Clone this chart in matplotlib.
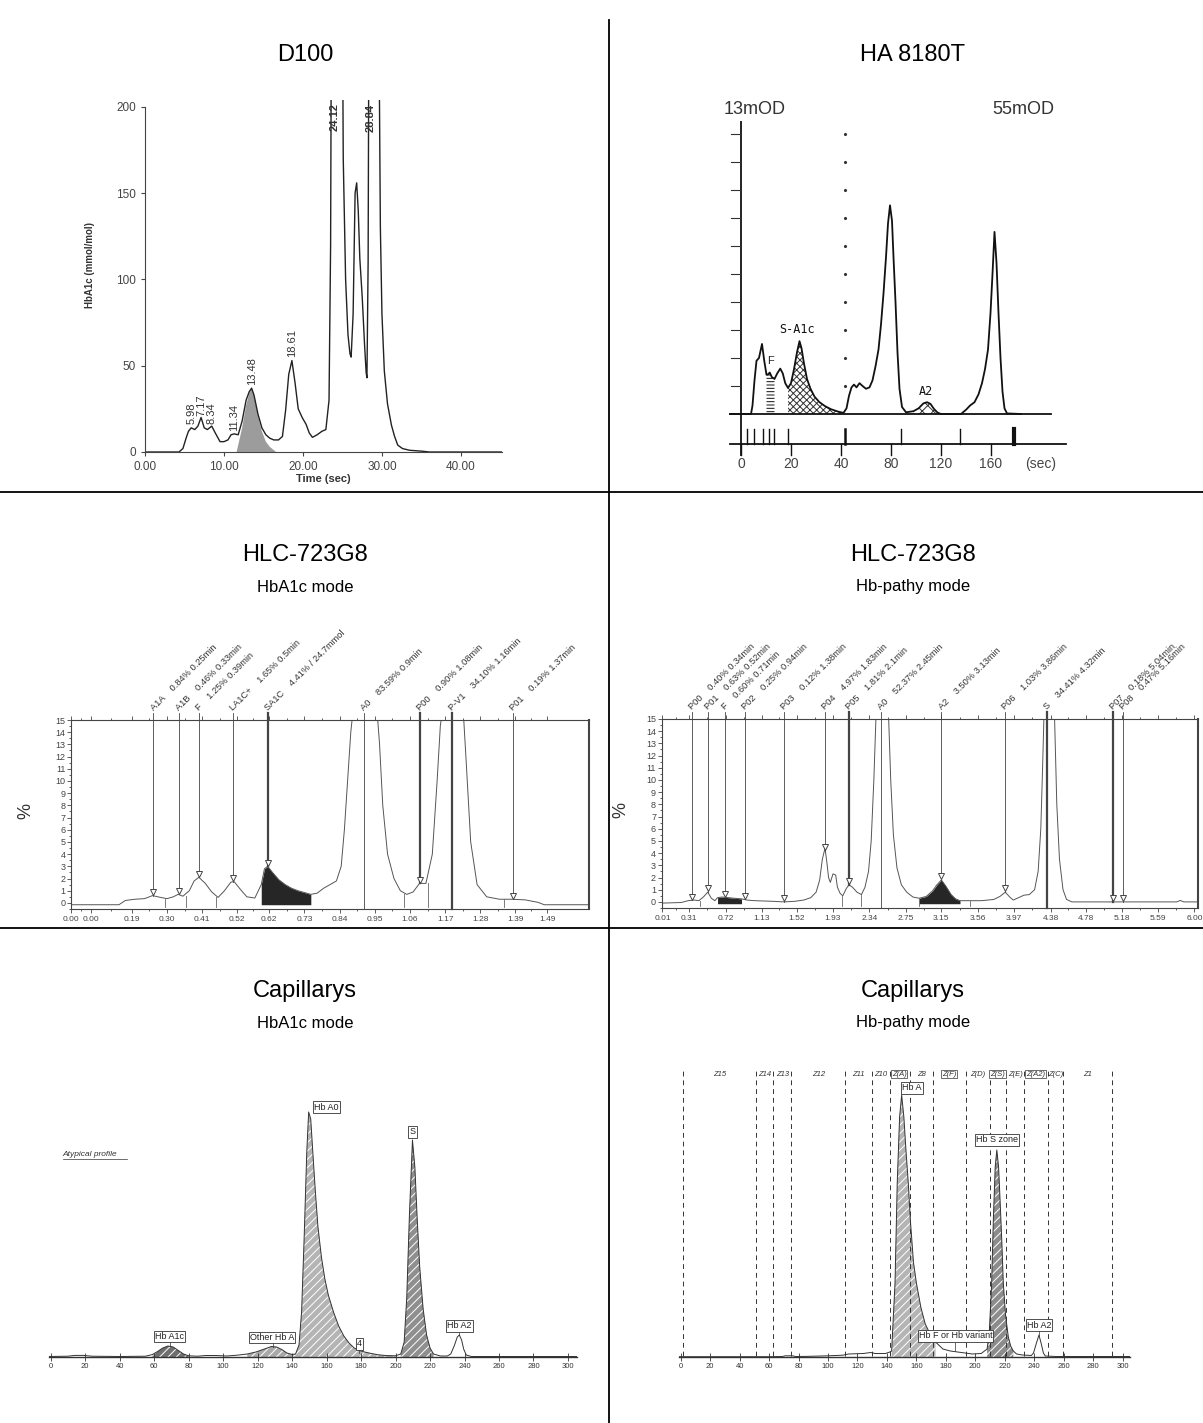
import numpy as np
import matplotlib.pyplot as plt
from matplotlib.lines import Line2D

plt.rcParams['font.family'] = ['Liberation Sans', 'DejaVu Sans']
plt.rcParams['hatch.linewidth'] = 0.7

W, H = 1203, 1423

# ---------------- data ----------------
# D100: time (sec), HbA1c signal
d100_curve = [(0.0, 0), (4.3, 0), (4.8, 2), (5.2, 8), (5.5, 12), (5.85, 14), (6.3, 13), (6.7, 15),
              (7.1, 20), (7.5, 14), (7.9, 13), (8.45, 15), (8.9, 11), (9.5, 6), (10.0, 6), (10.5, 7),
              (10.9, 10), (11.3, 10.5), (11.8, 10), (12.3, 18), (12.8, 30), (13.2, 35), (13.5, 37),
              (13.8, 33), (14.3, 22), (14.8, 14), (15.3, 10), (15.8, 8), (16.3, 7), (16.9, 7), (17.4, 9),
              (17.8, 24), (18.2, 45), (18.6, 53), (19.0, 40), (19.4, 25), (19.9, 20), (20.4, 16),
              (20.8, 11), (21.2, 8.5), (21.8, 10), (22.4, 12), (22.9, 13), (23.3, 30), (23.5, 120),
              (23.6, 260), (25.0, 260), (25.1, 170), (25.4, 100), (25.7, 68), (25.95, 57), (26.1, 55),
              (26.35, 80), (26.6, 150), (26.8, 156), (27.0, 140), (27.2, 112), (27.5, 90), (27.8, 62),
              (28.0, 46), (28.1, 43), (28.25, 110), (28.35, 260), (29.6, 260), (29.8, 130), (30.0, 80),
              (30.3, 47), (30.7, 28), (31.2, 15.6), (31.6, 9), (32.0, 4), (32.6, 2), (33.5, 1),
              (35.0, 0.5), (36.0, 0), (45.2, 0)]
d100_fill = [(11.6, 0), (12.3, 14), (12.8, 27), (13.2, 34), (13.5, 37), (13.8, 33), (14.3, 21),
             (14.8, 12), (15.3, 6), (15.8, 3), (16.6, 0)]
d100_peak_labels = [("5.98", 5.9, 16), ("7.17", 7.1, 21), ("8.34", 8.45, 16), ("11.34", 11.3, 12),
                    ("13.48", 13.5, 39), ("18.61", 18.6, 55)]
d100_top_labels = [("24.12", 24.0), ("28.84", 28.6)]
d100_xticks = [0, 10, 20, 30, 40]
d100_xticklabels = ["0.00", "10.00", "20.00", "30.00", "40.00"]
d100_yticks = [0, 50, 100, 150, 200]

# HA 8180T: scale position (u), signal (k, in y-tick steps)
ha_curve = [(-4.4, 0), (4.0, 0), (4.6, 0.3), (5.4, 1.2), (6.2, 1.9), (7.2, 2.0), (8.4, 2.5), (9.3, 1.9),
            (10.2, 1.4), (10.9, 1.42), (11.5, 1.48), (12.3, 1.32), (13.4, 1.25), (14.5, 1.45),
            (15.7, 1.62), (16.7, 1.45), (17.7, 1.1), (18.8, 0.93), (20.0, 1.1), (21.2, 1.6), (22.4, 2.2),
            (23.4, 2.6), (24.2, 2.35), (25.2, 1.8), (26.4, 1.25), (27.8, 0.9), (29.4, 0.62), (31.4, 0.42),
            (33.6, 0.28), (36.0, 0.17), (39.0, 0.08), (41.0, 0.04), (42.2, 0.2), (43.2, 0.65),
            (44.2, 0.95), (45.2, 1.05), (46.2, 0.95), (47.4, 1.1), (48.6, 1.0), (50.0, 0.9), (51.4, 0.95),
            (52.6, 1.2), (53.8, 1.7), (55.0, 2.3), (56.0, 3.2), (57.0, 4.3), (58.0, 5.6), (58.8, 6.8),
            (59.6, 7.45), (60.4, 6.9), (61.0, 5.6), (61.8, 4.0), (62.6, 2.2), (63.4, 0.9), (64.4, 0.25),
            (66.0, 0.06), (69.0, 0.1), (71.0, 0.2), (73.0, 0.38), (74.4, 0.42), (75.8, 0.36),
            (77.2, 0.18), (78.6, 0.05), (80.0, 0.0), (88.0, 0.0), (90.0, 0.15), (91.6, 0.3), (93.4, 0.42),
            (95.0, 0.7), (96.4, 1.1), (97.6, 1.6), (98.8, 2.3), (99.8, 3.6), (100.6, 5.0), (101.4, 6.5),
            (102.2, 5.4), (103.0, 3.6), (103.8, 2.0), (104.6, 0.8), (105.4, 0.2), (106.4, 0.02),
            (112.0, 0.0)]
ha_xticks = [0, 20, 40, 60, 80, 100]
ha_xticklabels = ["0", "20", "40", "80", "120", "160"]
ha_yticks = [1, 2, 3, 4, 5, 6, 7, 8, 9, 10]
ha_marks = [2.4, 5.2, 8.8, 11.2, 13.2, 18.8, 41.6, 64.0, 87.6, 109.2]
ha_mark_widths = [1, 1, 1, 1, 1, 1, 1.8, 1, 1, 3]

# HLC-723G8 HbA1c mode: time (min), %
hlcL_curve = [(0.00, -0.15), (0.15, -0.15), (0.17, 0.2), (0.20, 0.3), (0.23, 0.35), (0.255, 0.6),
              (0.28, 0.45), (0.30, 0.35), (0.32, 0.5), (0.335, 0.7), (0.35, 0.55), (0.37, 1.0),
              (0.385, 1.8), (0.40, 2.1), (0.42, 1.6), (0.44, 0.9), (0.46, 0.45), (0.48, 1.0), (0.50, 1.7),
              (0.51, 1.75), (0.53, 1.1), (0.55, 0.5), (0.575, 0.4), (0.595, 1.5), (0.605, 2.8),
              (0.615, 3.0), (0.63, 2.5), (0.65, 1.9), (0.67, 1.5), (0.69, 1.2), (0.71, 1.0), (0.73, 0.85),
              (0.75, 0.7), (0.77, 0.8), (0.79, 1.2), (0.81, 1.5), (0.83, 1.8), (0.845, 3.0), (0.855, 6.0),
              (0.865, 10.0), (0.875, 14.0), (0.885, 16.5), (0.955, 16.5), (0.965, 13.0), (0.975, 8.0),
              (0.99, 4.0), (1.01, 2.0), (1.03, 1.0), (1.05, 0.7), (1.07, 0.9), (1.09, 1.6), (1.11, 1.6),
              (1.13, 4.0), (1.145, 10.0), (1.155, 14.5), (1.165, 16.5), (1.225, 16.5), (1.235, 12.0),
              (1.25, 5.0), (1.27, 1.5), (1.30, 0.5), (1.34, 0.3), (1.38, 0.3), (1.42, 0.25), (1.46, 0.05),
              (1.48, -0.15), (1.62, -0.15)]
hlcL_fill = (0.595, 0.75)
hlcL_marks = [("A1A", 0.258, 0.6, "0.84% 0.25min", False), ("A1B", 0.338, 0.7, "0.46% 0.33min", False),
              ("F", 0.40, 2.1, "1.25% 0.39min", False), ("LA1C+", 0.506, 1.75, "1.65% 0.5min", False),
              ("SA1C", 0.616, 3.0, "4.41% / 24.7mmol", True), ("A0", 0.915, None, "83.59% 0.9min", False),
              ("P00", 1.09, 1.6, "0.90% 1.08min", True), ("P-V1", 1.19, None, "34.10% 1.16min", True),
              ("P01", 1.383, 0.3, "0.19% 1.37min", False)]
hlcL_drops = [(0.295, 0.35), (0.36, 0.55), (0.455, 0.45), (1.04, 0.7), (1.115, 1.6), (1.355, 0.3)]
hlcL_xticks = [0.0, 0.0625, 0.19, 0.30, 0.41, 0.52, 0.62, 0.73, 0.84, 0.95, 1.06, 1.17, 1.28, 1.39, 1.49]
hlcL_xticklabels = ["0.00", "0.00", "0.19", "0.30", "0.41", "0.52", "0.62", "0.73", "0.84", "0.95",
                    "1.06", "1.17", "1.28", "1.39", "1.49"]

# HLC-723G8 Hb-pathy mode
hlcR_curve = [(0.0, -0.1), (0.22, -0.05), (0.30, 0.1), (0.37, 0.15), (0.42, 0.1), (0.47, 0.4), (0.52, 0.8),
              (0.56, 0.3), (0.60, 0.1), (0.63, 0.35), (0.68, 0.4), (0.75, 0.35), (0.82, 0.3), (0.90, 0.25),
              (0.96, 0.15), (1.05, 0.1), (1.25, 0.05), (1.38, 0.0), (1.50, 0.05), (1.60, 0.15),
              (1.68, 0.35), (1.74, 0.8), (1.78, 1.8), (1.81, 3.5), (1.84, 4.4), (1.86, 3.3), (1.88, 2.0),
              (1.90, 1.6), (1.93, 2.3), (1.96, 2.2), (1.98, 1.2), (2.01, 0.7), (2.04, 0.5), (2.08, 1.1),
              (2.11, 1.4), (2.15, 1.2), (2.20, 0.8), (2.25, 0.6), (2.29, 1.2), (2.33, 2.5), (2.36, 5.0),
              (2.39, 10.0), (2.42, 16.5), (2.55, 16.5), (2.58, 10.0), (2.61, 5.5), (2.65, 2.8),
              (2.70, 1.4), (2.76, 0.8), (2.83, 0.4), (2.90, 0.3), (2.98, 0.45), (3.05, 0.9), (3.10, 1.4),
              (3.15, 1.8), (3.20, 1.3), (3.26, 0.6), (3.31, 0.25), (3.36, 0.1), (3.60, 0.1), (3.74, 0.2),
              (3.81, 0.45), (3.87, 0.8), (3.92, 0.4), (3.96, 0.15), (4.02, 0.35), (4.08, 0.55),
              (4.14, 0.6), (4.20, 1.0), (4.24, 2.5), (4.27, 6.0), (4.29, 11.0), (4.31, 16.5), (4.42, 16.5),
              (4.45, 8.0), (4.48, 3.5), (4.52, 1.0), (4.56, 0.2), (4.62, 0.0), (5.80, 0.0), (5.84, 0.12),
              (5.88, 0.0), (6.04, 0.0)]
hlcR_fills = [(0.62, 0.95), (2.88, 3.36)]
hlcR_marks = [("P00", 0.34, 0.12, "0.40% 0.34min", False), ("P01", 0.52, 0.8, "0.63% 0.52min", False),
              ("F", 0.71, 0.38, "0.60% 0.71min", False), ("P02", 0.94, 0.2, "0.25% 0.94min", False),
              ("P03", 1.38, 0.0, "0.12% 1.38min", False), ("P04", 1.84, 4.2, "4.97% 1.83min", False),
              ("P05", 2.11, 1.4, "1.81% 2.1min", True), ("A0", 2.47, None, "52.37% 2.45min", False),
              ("A2", 3.15, 1.8, "3.50% 3.13min", False), ("P06", 3.87, 0.8, "1.03% 3.86min", False),
              ("S", 4.34, None, "34.41% 4.32min", True), ("P07", 5.08, 0.0, "0.18% 5.04min", True),
              ("P08", 5.19, 0.0, "0.47% 5.16min", False)]
hlcR_drops = [(0.43, 0.1), (2.03, 0.5), (2.25, 0.6), (2.90, 0.3), (3.47, 0.1)]
hlcR_xticks = [0.01, 0.31, 0.72, 1.13, 1.52, 1.93, 2.34, 2.75, 3.15, 3.56, 3.97, 4.38, 4.78, 5.18, 5.59, 6.00]
hlcR_xticklabels = ["0.01", "0.31", "0.72", "1.13", "1.52", "1.93", "2.34", "2.75", "3.15", "3.56",
                    "3.97", "4.38", "4.78", "5.18", "5.59", "6.00"]

# Capillarys HbA1c mode
capL_curve = [(-1, 0.5), (10, 0.8), (14, 1.6), (19, 1.6), (24, 0.8), (40, 0.5), (55, 0.8), (59, 2.5),
              (62, 5.5), (65, 9), (68, 11), (71, 10), (74, 6.5), (77, 3), (80, 1.2), (85, 0.8), (90, 1.5),
              (96, 1.5), (102, 1), (108, 1.8), (114, 3), (119, 5), (124, 8), (128, 10.5), (131, 10),
              (134, 7.5), (137, 4), (140, 2.5), (142, 3), (144, 12), (145.5, 45), (147, 120), (148.5, 205),
              (149.6, 245), (150.8, 238), (152, 205), (153.5, 165), (155, 130), (157, 100), (159, 78),
              (161, 62), (164, 45), (167, 31), (170, 21), (173, 14), (176, 9), (179, 6.5), (182, 5),
              (186, 3.5), (190, 2.2), (195, 1.4), (200, 1.2), (203, 3), (205, 15), (206.5, 60), (208, 140),
              (209.8, 217), (211.2, 190), (212.5, 140), (214, 90), (216, 48), (218, 22), (220, 9), (222, 3),
              (226, 1), (230, 1), (232, 3), (234, 11), (235.8, 20), (237, 22), (238.3, 17), (239.5, 8),
              (241, 2), (244, 0.5), (305, 0.5)]
capL_fills = [(58, 80, "#6f6f6f"), (112, 142, "#a9a9a9"), (142, 200, "#b4b4b4"), (203, 224, "#8f8f8f")]
capL_boxes = [("Hb A1c", 69, 20.5), ("Other Hb A", 128.4, 19.5), ("Hb A0", 160, 250), ("S", 209.8, 225),
              ("4", 179, 13), ("Hb A2", 237, 31)]

# Capillarys Hb-pathy mode
capR_curve = [(-1, 0.3), (60, 0.3), (69, 0.5), (71, 1.2), (76, 1.2), (78, 0.5), (85, 0.6), (100, 1.2),
              (110, 1.8), (114, 3), (124, 3.5), (129, 4.5), (132, 3.5), (139, 3.5), (142, 5), (143.2, 6),
              (145.5, 74), (147, 174), (148.6, 240), (150, 262), (151.5, 240), (153, 205), (154.5, 174),
              (156, 135), (158, 95), (160, 74), (163, 50), (166, 33), (169, 24), (173, 15), (178, 8),
              (183, 6), (188, 5), (193, 4), (198, 3), (204, 3.5), (208, 8), (209.5, 25), (211, 70),
              (212.3, 140), (213.5, 190), (214.6, 207), (215.8, 190), (216.8, 157), (218, 115), (219, 74),
              (220.5, 42), (222.4, 20), (224, 11), (225.8, 6), (228, 3), (232, 2), (238, 1.5), (239.5, 4),
              (241.5, 14), (243.2, 22), (244.8, 13), (246.2, 4), (247.5, 1), (255, 0.5), (305, 0.5)]
capR_fills = [(143, 173, "#b4b4b4"), (208, 226, "#8c8c8c")]
capR_boxes = [("Hb A", 157, 269), ("Hb S zone", 214.5, 217), ("Hb F or Hb variant", 186.6, 21),
              ("Hb A2", 243.2, 32)]
capR_zone_x = [1.4, 50.9, 62.9, 74.7, 111.5, 130, 142, 155.7, 171.5, 193.4, 210, 220.6, 233, 249, 259.7, 292.5]
capR_zones = [("Z15", 26.2, False), ("Z14", 56.8, False), ("Z13", 69, False), ("Z12", 93.4, False),
              ("Z11", 120.6, False), ("Z10", 136, False), ("Z(A)", 148.4, True), ("Z8", 163.6, False),
              ("Z(F)", 182.3, True), ("Z(D)", 201.4, False), ("Z(S)", 215, True), ("Z(E)", 227, False),
              ("Z(A2)", 241, True), ("Z(C)", 254.5, False), ("Z1", 276, False)]
cap_xticks = list(range(0, 301, 20))

# ---------------- layout ----------------
LINE1, LINE2, VLINE = 492, 928, 609


def px_rect(x0, y0, x1, y1):
    return [x0 / W, 1 - y1 / H, (x1 - x0) / W, (y1 - y0) / H]


fig = plt.figure(figsize=(W / 100, H / 100), dpi=100)

fig.add_artist(Line2D([0, 1], [1 - LINE1 / H] * 2, color='k', lw=1.3))
fig.add_artist(Line2D([0, 1], [1 - LINE2 / H] * 2, color='k', lw=1.3))
fig.add_artist(Line2D([VLINE / W] * 2, [0, 1 - 20 / H], color='k', lw=1.3))

fig.text(305 / W, 1 - 55 / H, "D100", ha='center', va='center', fontsize=17)
fig.text(913 / W, 1 - 55 / H, "HA 8180T", ha='center', va='center', fontsize=17)
for cx, sub in ((305, "HbA1c mode"), (913, "Hb-pathy mode")):
    fig.text(cx / W, 1 - (LINE1 + 63) / H, "HLC-723G8", ha='center', va='center', fontsize=17)
    fig.text(cx / W, 1 - (LINE1 + 95) / H, sub, ha='center', va='center', fontsize=12)
    fig.text(cx / W, 1 - (LINE2 + 63) / H, "Capillarys", ha='center', va='center', fontsize=17)
    fig.text(cx / W, 1 - (LINE2 + 95) / H, sub, ha='center', va='center', fontsize=12)

# ---------------- D100 ----------------
ax = fig.add_axes(px_rect(145, 100, 502, 452))
t, v = zip(*d100_curve)
ft, fv = zip(*d100_fill)
ax.fill(ft, fv, color='#9c9c9c', lw=0)
ax.plot(t, v, color='#222222', lw=1.0)
ax.set_xlim(0, 45.2)
ax.set_ylim(0, 204)
for s in ('top', 'right'):
    ax.spines[s].set_visible(False)
ax.spines['left'].set_bounds(0, 200)
for s in ('left', 'bottom'):
    ax.spines[s].set_color('#444444')
ax.set_xticks(d100_xticks, d100_xticklabels)
ax.set_yticks(d100_yticks)
ax.tick_params(length=3, width=0.8, colors='#444444', labelsize=8.5)
ax.set_xlabel("Time (sec)", fontsize=8, fontweight='bold', color='#333333', labelpad=1)
ax.set_ylabel("HbA1c (mmol/mol)", fontsize=7, fontweight='bold', color='#333333')
ax.yaxis.set_label_coords(-0.14, 0.53)
for lab, x, y in d100_peak_labels:
    ax.text(x, y, lab, rotation=90, ha='center', va='bottom', fontsize=8, color='#333333')
for lab, x in d100_top_labels:
    ax.text(x, 202, lab, rotation=90, ha='center', va='top', fontsize=8, color='#333333',
            fontweight='bold')

# ---------------- HA 8180T ----------------
ax = fig.add_axes(px_rect(728, 121, 1070, 470))
ax.set_xlim(-5.2, 131.6)
ax.set_ylim(-2.0, 10.46)
ax.axis('off')
u, k = map(np.array, zip(*ha_curve))
m = (u >= 10.2) & (u <= 13.4)
ax.fill_between(u[m], 0, k[m], facecolor='white', edgecolor='#111111', hatch='-----', lw=0)
m = (u >= 18.8) & (u <= 41.0)
ax.fill_between(u[m], 0, k[m], facecolor='white', edgecolor='#333333', hatch='xxxxx', lw=0)
m = (u >= 69.0) & (u <= 78.6)
ax.fill_between(u[m], 0, k[m], facecolor='white', edgecolor='#333333', hatch='xxx', lw=0)
ax.plot(u, k, color='#111111', lw=1.3)
ax.plot([0, 0], [-1.45, 10.45], color='#111111', lw=1.3)
for kk in ha_yticks:
    ax.plot([-4, 0], [kk, kk], color='#333333', lw=0.8)
ax.plot([41.5] * len(ha_yticks), ha_yticks, ls='none', marker='.', ms=2.5, color='#333333')
ax.plot([-4.4, 124], [0, 0], color='#111111', lw=1.3)
ax.plot([-4.4, 130], [-1.07, -1.07], color='#111111', lw=1.3)
for uu in ha_xticks:
    ax.plot([uu, uu], [-1.07, -1.45], color='#111111', lw=1.0)
for uu, lw in zip(ha_marks, ha_mark_widths):
    ax.plot([uu, uu], [-1.07, -0.54], color='#111111', lw=lw)
for uu, lab in zip(ha_xticks, ha_xticklabels):
    ax.text(uu, -1.55, lab, ha='center', va='top', fontsize=10, color='#444444')
ax.text(120, -1.55, "(sec)", ha='center', va='top', fontsize=10, color='#444444')
ax.text(11.8, 1.9, "F", fontsize=8, ha='center', va='center', color='#222222')
ax.text(22.5, 3.0, "S-A1c", fontsize=8.5, ha='center', va='center', family='DejaVu Sans Mono',
        color='#111111')
ax.text(73.8, 0.8, "A2", fontsize=8.5, ha='center', va='center', family='DejaVu Sans Mono',
        color='#111111')
ax.text(5.6, 10.86, "13mOD", fontsize=13, ha='center', va='center', color='#333333')
ax.text(112.8, 10.86, "55mOD", fontsize=13, ha='center', va='center', color='#333333')


# ---------------- HLC-723G8 ----------------
def draw_hlc(rect, curve, fills, marks, drops, xticks, xticklabels, xmax, ylabel_x):
    ax = fig.add_axes(px_rect(*rect))
    t, v = map(np.array, zip(*curve))
    for a, b in fills:
        m = (t >= a) & (t <= b)
        ax.fill_between(t[m], -0.15, v[m], color='#262626', lw=0)
    ax.plot(t, v, color='#555555', lw=0.7)
    for x, y in drops:
        ax.plot([x, x], [-0.3, y], color='#666666', lw=0.6)
    for name, x, ym, txt, thick in marks:
        bottom = ym if ym is not None else -0.5
        ax.plot([x, x], [bottom, 15.6], color='#444444', lw=1.6 if thick else 0.6, clip_on=False)
        if ym is not None:
            ax.plot(x, ym + 0.3, marker='v', ms=4.5, mfc='white', mec='#444444', mew=0.7)
        ax.text(x + xmax * 0.003, 15.65, name + "    " + txt, rotation=45, rotation_mode='anchor',
                ha='left', va='bottom', fontsize=6.7, color='#333333')
    ax.set_xlim(0, xmax)
    ax.set_ylim(-0.5, 15)
    for s in ax.spines.values():
        s.set_color('#444444')
        s.set_linewidth(0.8)
    ax.spines['right'].set_linewidth(1.5)
    ax.set_xticks(xticks, xticklabels)
    ax.set_yticks(range(0, 16))
    ax.set_yticks(np.arange(-0.5, 15.01, 0.5), minor=True)
    ax.set_xticks([(xticks[i] + xticks[i + 1]) / 2 for i in range(len(xticks) - 1)], minor=True)
    ax.tick_params(which='both', top=True, direction='out', width=0.6, colors='#444444', labelsize=6)
    ax.tick_params(which='major', length=3)
    ax.tick_params(which='minor', length=1.5)
    ax.tick_params(axis='y', labelsize=6.5, pad=1)
    ax.tick_params(axis='x', pad=2)
    ax.set_ylabel("%", fontsize=13, color='#333333')
    ax.yaxis.set_label_coords(ylabel_x, 0.52)
    return ax


draw_hlc((71, 720, 589, 909), hlcL_curve, [hlcL_fill], hlcL_marks, hlcL_drops,
         hlcL_xticks, hlcL_xticklabels, 1.62, -0.07)
draw_hlc((661.6, 719, 1198, 908), hlcR_curve, hlcR_fills, hlcR_marks, hlcR_drops,
         hlcR_xticks, hlcR_xticklabels, 6.04, -0.06)


# ---------------- Capillarys ----------------
def draw_cap(rect, curve, fills, boxes):
    ax = fig.add_axes(px_rect(*rect))
    x, y = map(np.array, zip(*curve))
    for a, b, col in fills:
        m = (x >= a) & (x <= b)
        ax.fill_between(x[m], 0, y[m], facecolor=col, edgecolor='white', hatch='////', lw=0)
    ax.plot(x, y, color='#333333', lw=0.7)
    for lab, bx, by in boxes:
        ax.text(bx, by, lab, ha='center', va='center', fontsize=6.5, color='#222222',
                bbox=dict(boxstyle='square,pad=0.12', fc='white', ec='#333333', lw=0.6))
    ax.set_xlim(-1, 305)
    ax.set_ylim(-3, 300)
    for s in ('top', 'right', 'left'):
        ax.spines[s].set_visible(False)
    ax.spines['bottom'].set_position(('data', 0))
    ax.spines['bottom'].set_color('#333333')
    ax.spines['bottom'].set_linewidth(1.0)
    ax.set_yticks([])
    ax.set_xticks(cap_xticks, [str(c) for c in cap_xticks])
    ax.tick_params(axis='x', direction='inout', length=6, width=0.6, labelsize=5.5, pad=1,
                   colors='#333333')
    return ax


ax = draw_cap((49, 1057, 576.6, 1360), capL_curve, capL_fills, capL_boxes)
ax.plot([69, 69], [11, 16], color='#333333', lw=0.5)
ax.plot([129, 129], [10.5, 15], color='#333333', lw=0.5)
ax.plot([179, 179], [4, 8.5], color='#333333', lw=0.5)
ax.plot([237, 237], [22, 26.5], color='#333333', lw=0.5)
ax.text(7, 201, "Atypical profile", fontsize=6, style='italic', color='#333333')
ax.plot([7, 44], [198, 198], color='#333333', lw=0.5)

ax = draw_cap((679.2, 1057, 1130, 1360), capR_curve, capR_fills, capR_boxes)
ax.vlines(capR_zone_x, 1, 288, colors='#333333', linestyles=(0, (5, 4)), lw=0.7)
for lab, zx, boxed in capR_zones:
    kw = dict(bbox=dict(boxstyle='square,pad=0.1', fc='white', ec='#555555', lw=0.6)) if boxed else {}
    ax.text(zx, 283, lab, ha='center', va='center', fontsize=5.5, style='italic', color='#333333', **kw)
ax.plot([186, 186], [6, 17], color='#333333', lw=0.5)
ax.plot([243.2, 243.2], [22, 27.5], color='#333333', lw=0.5)

fig.savefig("out.png", dpi=100)
